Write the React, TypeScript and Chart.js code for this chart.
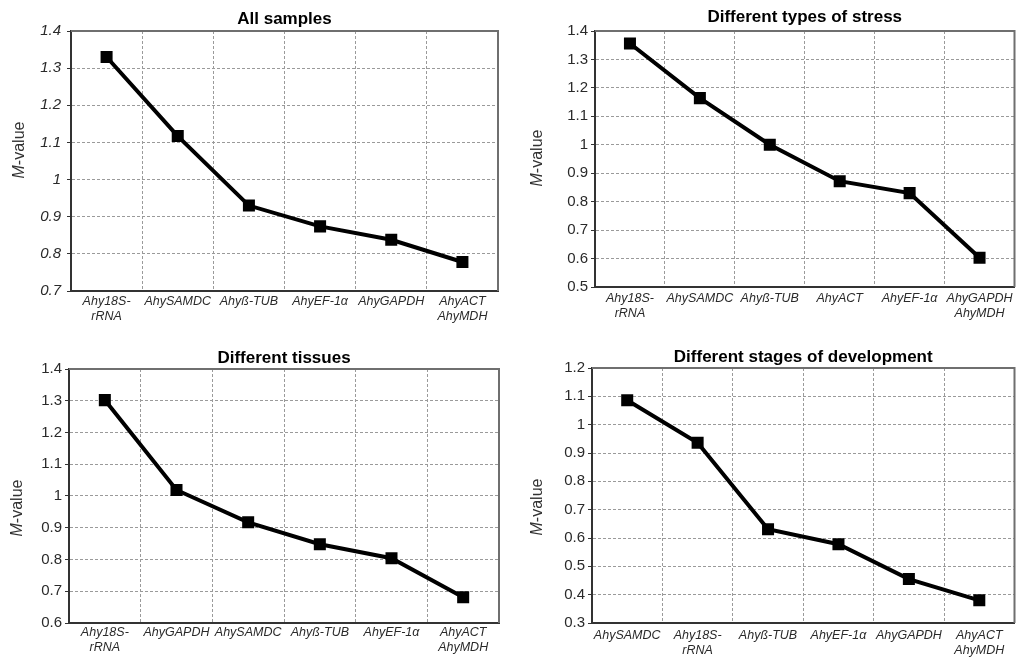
import React, { useEffect, useRef } from "react";
import { Chart, registerables } from "chart.js";

Chart.register(...registerables);

const FONT = "'Liberation Sans', Arial, Helvetica, sans-serif";

// ---- data ----
const titleAll = "All samples";
const catsAll: (string | string[])[] = [["Ahy18S-", "rRNA"], "AhySAMDC", "Ahyß-TUB", "AhyEF-1α", "AhyGAPDH", ["AhyACT", "AhyMDH"]];
const valsAll = [1.33, 1.117, 0.93, 0.874, 0.838, 0.778];
const yAll = { min: 0.7, max: 1.4, step: 0.1 };

const titleStress = "Different types of stress";
const catsStress: (string | string[])[] = [["Ahy18S-", "rRNA"], "AhySAMDC", "Ahyß-TUB", "AhyACT", "AhyEF-1α", ["AhyGAPDH", "AhyMDH"]];
const valsStress = [1.356, 1.164, 1.0, 0.872, 0.83, 0.603];
const yStress = { min: 0.5, max: 1.4, step: 0.1 };

const titleTissue = "Different tissues";
const catsTissue: (string | string[])[] = [["Ahy18S-", "rRNA"], "AhyGAPDH", "AhySAMDC", "Ahyß-TUB", "AhyEF-1α", ["AhyACT", "AhyMDH"]];
const valsTissue = [1.302, 1.019, 0.917, 0.848, 0.804, 0.681];
const yTissue = { min: 0.6, max: 1.4, step: 0.1 };

const titleDev = "Different stages of development";
const catsDev: (string | string[])[] = ["AhySAMDC", ["Ahy18S-", "rRNA"], "Ahyß-TUB", "AhyEF-1α", "AhyGAPDH", ["AhyACT", "AhyMDH"]];
const valsDev = [1.086, 0.936, 0.631, 0.578, 0.455, 0.38];
const yDev = { min: 0.3, max: 1.2, step: 0.1 };

const yLabelItalic = "M";
const yLabelRest = "-value";

// ---- layout (styles only) ----
type Panel = {
  title: string;
  cats: (string | string[])[];
  vals: number[];
  y: { min: number; max: number; step: number };
  left: number; top: number; w: number; h: number;
  L: number; R: number; T: number; B: number;
  titleY: number; labelX: number; labelY: number;
  xPad: number; yPad: number; yItalic: boolean;
};

const panels: Panel[] = [
  { title: titleAll, cats: catsAll, vals: valsAll, y: yAll, left: 0, top: 0, w: 512, h: 329, L: 71, R: 498, T: 31, B: 291, titleY: 19, labelX: 20, labelY: 150, xPad: 3, yPad: 6, yItalic: true },
  { title: titleStress, cats: catsStress, vals: valsStress, y: yStress, left: 512, top: 0, w: 511, h: 329, L: 83, R: 509, T: 31, B: 287, titleY: 17, labelX: 26, labelY: 158, xPad: 4, yPad: 3, yItalic: false },
  { title: titleTissue, cats: catsTissue, vals: valsTissue, y: yTissue, left: 0, top: 329, w: 512, h: 329, L: 69, R: 499, T: 40, B: 294, titleY: 29, labelX: 18, labelY: 179, xPad: 2, yPad: 3, yItalic: false },
  { title: titleDev, cats: catsDev, vals: valsDev, y: yDev, left: 512, top: 329, w: 511, h: 329, L: 80, R: 505, T: 39, B: 294, titleY: 28, labelX: 26, labelY: 178, xPad: 5, yPad: 3, yItalic: false },
];

const framePlugin = {
  id: "frame",
  beforeDatasetsDraw(chart: any, _args: any, opts: any) {
    const { ctx, chartArea: a } = chart;
    ctx.save();
    ctx.strokeStyle = "#6f6f6f";
    ctx.lineWidth = 2;
    ctx.beginPath();
    ctx.moveTo(a.left, a.top);
    ctx.lineTo(a.right, a.top);
    ctx.lineTo(a.right, a.bottom);
    ctx.stroke();
    ctx.restore();

    ctx.save();
    ctx.translate(opts.labelX, opts.labelY);
    ctx.rotate(-Math.PI / 2);
    ctx.fillStyle = "#333";
    ctx.textBaseline = "middle";
    ctx.textAlign = "left";
    const f1 = `italic 16px ${FONT}`;
    const f2 = `16px ${FONT}`;
    ctx.font = f1;
    const w1 = ctx.measureText(yLabelItalic).width;
    ctx.font = f2;
    const w2 = ctx.measureText(yLabelRest).width;
    const x0 = -(w1 + w2) / 2;
    ctx.font = f1;
    ctx.fillText(yLabelItalic, x0, 0);
    ctx.font = f2;
    ctx.fillText(yLabelRest, x0 + w1, 0);
    ctx.restore();
  },
};

function PanelChart({ p }: { p: Panel }) {
  const ref = useRef<HTMLCanvasElement | null>(null);
  useEffect(() => {
    if (!ref.current) return;
    const titleSize = 17;
    const lh = titleSize * 1.2;
    const chart = new Chart(ref.current, {
      type: "line",
      data: {
        labels: p.cats as any,
        datasets: [
          {
            data: p.vals,
            borderColor: "#000",
            borderWidth: 4,
            pointStyle: "rect",
            pointRadius: 8.5,
            pointBackgroundColor: "#000",
            pointBorderColor: "#000",
            pointBorderWidth: 0,
            tension: 0,
            fill: false,
          },
        ],
      },
      options: {
        responsive: false,
        animation: false,
        layout: { padding: { left: 0, right: p.w - p.R, top: 0, bottom: 0 } },
        plugins: {
          legend: { display: false },
          tooltip: { enabled: false },
          title: {
            display: true,
            text: p.title,
            fullSize: false,
            color: "#000",
            font: { family: FONT, size: titleSize, weight: "bold" },
            padding: { top: p.titleY - lh / 2, bottom: p.T - p.titleY - lh / 2 },
          },
          frame: { labelX: p.labelX, labelY: p.labelY },
        } as any,
        scales: {
          x: {
            type: "category",
            offset: true,
            grid: { display: true, offset: true, drawTicks: false, color: "#9a9a9a", lineWidth: 1, borderDash: [3, 2] } as any,
            border: { display: true, color: "#333", width: 2, dash: [3, 2] },
            ticks: {
              font: { family: FONT, size: 12.5, style: "italic" },
              color: "#2a2a2a",
              padding: p.xPad,
              maxRotation: 0,
              minRotation: 0,
              autoSkip: false,
            },
            afterFit: (s: any) => {
              s.height = p.h - p.B;
            },
          },
          y: {
            type: "linear",
            min: p.y.min,
            max: p.y.max,
            grid: { color: "#9a9a9a", lineWidth: 1, tickLength: 4, tickColor: "#333", tickWidth: 1, tickBorderDash: [], borderDash: [3, 2] } as any,
            border: { display: true, color: "#333", width: 2, dash: [3, 2] },
            ticks: {
              stepSize: p.y.step,
              font: { family: FONT, size: 15, style: p.yItalic ? "italic" : "normal" },
              color: "#2a2a2a",
              padding: p.yPad,
              callback: (v: any) => String(parseFloat(Number(v).toFixed(1))),
            },
            afterFit: (s: any) => {
              s.width = p.L;
            },
          },
        },
      },
      plugins: [framePlugin],
    } as any);
    return () => chart.destroy();
  }, [p]);
  return (
    <div style={{ position: "absolute", left: p.left, top: p.top, width: p.w, height: p.h }}>
      <canvas ref={ref} width={p.w} height={p.h} style={{ display: "block", width: p.w, height: p.h }} />
    </div>
  );
}

export default function App() {
  return (
    <div style={{ position: "absolute", left: 0, top: 0, width: 1023, height: 658, background: "#fff", overflow: "hidden" }}>
      {panels.map((p, i) => (
        <PanelChart key={i} p={p} />
      ))}
    </div>
  );
}
